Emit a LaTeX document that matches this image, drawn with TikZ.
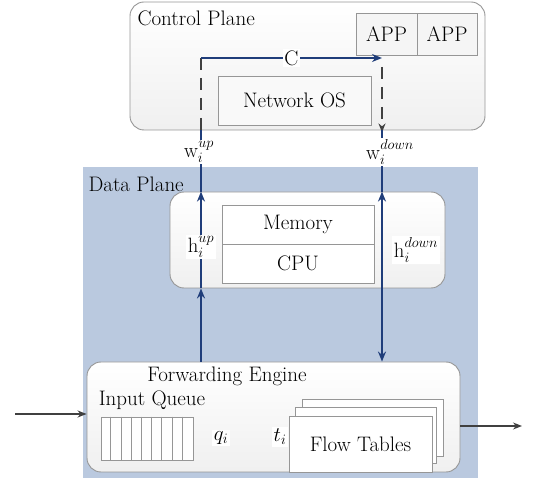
\documentclass[tikz,border=0pt]{standalone}
\usetikzlibrary{arrows.meta}
\definecolor{planeblue}{RGB}{186,201,223}
\definecolor{linkblue}{RGB}{31,61,122}
\definecolor{boxgray}{RGB}{150,150,150}
\tikzset{
  panel/.style={draw=boxgray, line width=0.9pt, rounded corners=14pt, top color=white, bottom color=gray!12},
  unit/.style={draw=boxgray, line width=0.9pt, fill=white, inner sep=0pt},
  tag/.style={fill=white, inner sep=2pt},
  link/.style={draw=linkblue, line width=1.8pt},
  linktip/.style={-{Stealth[length=10pt,width=8pt]}},
  bothtip/.style={{Stealth[length=10pt,width=8pt]}-{Stealth[length=10pt,width=8pt]}},
  ctrl/.style={draw=black!75, line width=1.8pt, dash pattern=on 12pt off 8pt},
}
\newcommand{\hopsup}[1]{^{\raisebox{2pt}{$\scriptstyle #1$}}}
\begin{document}
\begin{tikzpicture}[x=1pt,y=-1pt,font=\fontsize{21}{25}\selectfont]
  \useasboundingbox (0,0) rectangle (550,481);
  % control plane
  \node[panel, minimum width=355pt, minimum height=128pt] (cp) at (307.5,66) {};
  \node[anchor=west] (cptext) at (134,18) {Control Plane};
  \node[unit, minimum width=61pt, minimum height=42pt, fill=gray!8] (app1) at (386.5,34) {APP};
  \node[unit, minimum width=60pt, minimum height=42pt, fill=gray!8] (app2) at (447,34) {APP};
  \node[unit, minimum width=153pt, minimum height=49pt, fill=gray!5] (nos) at (294.5,100.5) {Network OS};
  % data plane
  \node[fill=planeblue, minimum width=395pt, minimum height=311pt] (dp) at (280.5,322.5) {};
  \node[anchor=west] (dptext) at (85,184) {Data Plane};
  \node[panel, minimum width=275pt, minimum height=96pt] (mid) at (307.5,240) {};
  \node[unit, minimum width=152pt, minimum height=39pt] (mem) at (298,224.5) {Memory};
  \node[unit, minimum width=152pt, minimum height=39pt] (cpu) at (298,263.5) {CPU};
  \node[panel, minimum width=373pt, minimum height=110pt] (fwd) at (273.5,417) {};
  \node (fwdtext) at (227,376) {Forwarding Engine};
  \node (iqtext) at (152,400) {Input Queue};
  \node[unit, minimum width=92pt, minimum height=43pt] (queue) at (147,438.5) {};
  \foreach \i in {1,...,8}
    \draw[boxgray, line width=0.8pt] ([xshift=\i*10.22pt]queue.north west) -- ([xshift=\i*10.22pt]queue.south west);
  \node[tag] (qi) at (221,438) {$q_i$};
  \node[unit, minimum width=141pt, minimum height=57pt] (ft3) at (372.5,427.5) {};
  \node[unit, minimum width=141pt, minimum height=56pt] (ft2) at (365.5,435) {};
  \node[unit, minimum width=143pt, minimum height=56pt] (ft1) at (360.5,444) {\raisebox{-3pt}{Flow Tables}};
  \node[tag] (ti) at (280,437) {$t_i$};
  % connectors
  \coordinate (cl) at (201,58);
  \coordinate (cr) at (382,58);
  \coordinate (inq) at (15,414);
  \coordinate (outq) at (522,426);
  \draw[ctrl] (cl) -- (cl |- cp.south);
  \draw[ctrl, -{Stealth[length=9pt,width=7pt]}] ([yshift=-9pt]cr) -- ([yshift=-2pt]cr |- cp.south);
  \draw[link, linktip] (cl) -- (cr) node[midway, tag, inner sep=1pt, text=black] (c) {C};
  \draw[link] (cl |- cp.south) -- (cl |- mid.north);
  \draw[link, linktip] (cl |- mid.south) -- (cl |- mid.north);
  \draw[link, linktip] (cl |- fwd.north) -- (cl |- mid.south);
  \draw[link] (cr |- cp.south) -- (cr |- mid.north);
  \draw[link, bothtip] (cr |- mid.north) -- (cr |- fwd.north);
  \draw[black!75, line width=1.3pt, -{Stealth[length=9pt,width=7pt]}] (inq) -- (inq -| fwd.west);
  \draw[black!75, line width=1.3pt, -{Stealth[length=9pt,width=7pt]}] (outq -| fwd.east) -- (outq);
  % link labels
  \node[tag] (wup) at (199,152) {$\mathrm{w}_i\hopsup{up}$};
  \node[tag] (wdown) at (390,152) {$\mathrm{w}_i\hopsup{down}$};
  \node[tag] (hup) at (201,247) {$\mathrm{h}_i\hopsup{up}$};
  \node[tag] (hdown) at (416,250) {$\mathrm{h}_i\hopsup{down}$};
\end{tikzpicture}
\end{document}
